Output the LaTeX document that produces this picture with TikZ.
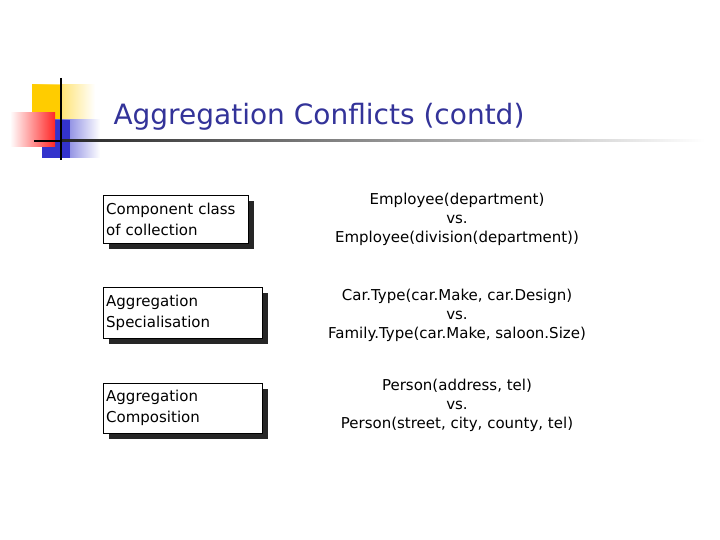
\documentclass[tikz,border=0pt]{standalone}
\usepackage{fontspec}
\setmainfont{DejaVu Sans}
\definecolor{ttl}{RGB}{51,51,153}
\definecolor{yel}{RGB}{255,204,0}
\definecolor{blu}{RGB}{51,51,204}
\begin{document}
\begin{tikzpicture}[x=1pt,y=-1pt,
  lbox/.style={draw=black,fill=white,align=left,anchor=north west,inner sep=3pt,font=\fontsize{15}{21}\selectfont},
  rtxt/.style={align=center,font=\fontsize{15}{19}\selectfont}]
\useasboundingbox (0,0) rectangle (720,540);
\fill[white] (0,0) rectangle (720,540);
% logo
\fill[left color=yel,right color=white] (32,85) rectangle (95,120);
\fill[yel] (32,85) rectangle (62,120);
\fill[left color=blu,right color=white] (42,120) rectangle (100,158);
\fill[blu] (42,120) rectangle (70,158);
\fill[left color=white,right color=red!85] (10,113) rectangle (55,147);
\draw[line width=2pt] (61,78) -- (61,160);
\draw[line width=2pt] (34,141) -- (62,141);
\shade[left color=black!85,right color=white] (62,140) rectangle (705,142);
\node[anchor=west,text=ttl,font=\fontsize{28}{32}\selectfont] (title) at (110,117) {Aggregation Conflicts (contd)};
% boxes
\foreach \n/\x/\y/\w/\h/\t in {a/103/195/145/48/{Component class\\of collection},b/103/287/159/51/{Aggregation\\Specialisation},c/103/383/159/50/{Aggregation\\Composition}}{
  \fill[black!85] (\x+6,\y+6) rectangle (\x+\w+6,\y+\h+6);
  \node[lbox,minimum width=\w pt,minimum height=\h pt,text width=\w pt-6pt] (\n) at (\x,\y) {\t};
}
\node[rtxt] (ra) at (457,219) {Employee(department)\\vs.\\Employee(division(department))};
\node[rtxt] (rb) at (457,315) {Car.Type(car.Make, car.Design)\\vs.\\Family.Type(car.Make, saloon.Size)};
\node[rtxt] (rc) at (457,405) {Person(address, tel)\\vs.\\Person(street, city, county, tel)};
\end{tikzpicture}
\end{document}
